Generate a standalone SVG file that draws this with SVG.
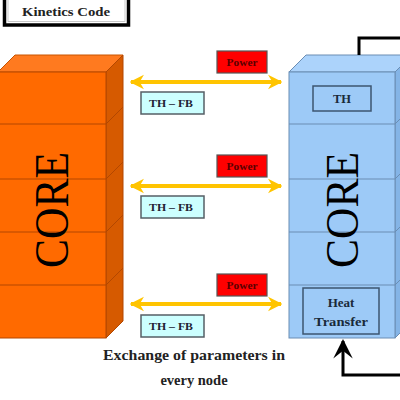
<svg xmlns="http://www.w3.org/2000/svg" width="400" height="400" viewBox="0 0 400 400">
<defs>
<style>
.serif{font-family:"Liberation Serif","Times New Roman",serif;}
.b{font-weight:bold;}
.odiv{stroke:#b34700;stroke-width:1;fill:none;}
.bdiv{stroke:#6a8db3;stroke-width:1;fill:none;}
.yarrow{stroke:#ffc400;stroke-width:4;fill:none;}
.power{fill:#ff0000;stroke:#555;stroke-width:1.2;}
.thfb{fill:#ccffff;stroke:#555f66;stroke-width:1.5;}
.blk{stroke:#000;stroke-width:3;fill:none;}
</style>
<marker id="yh" viewBox="0 0 10 10" refX="9" refY="5" markerWidth="3.6" markerHeight="4.2" orient="auto-start-reverse" markerUnits="strokeWidth">
<path d="M0,0 L10,5 L0,10 L3,5 Z" fill="#ffc400"/>
</marker>
<marker id="bh" viewBox="0 0 10 10" refX="9" refY="5" markerWidth="6.5" markerHeight="6.8" orient="auto" markerUnits="strokeWidth">
<path d="M0,0 L10,5 L0,10 L4,5 Z" fill="#000"/>
</marker>
</defs>
<rect width="400" height="400" fill="#fff"/>

<g id="kinetics">
<rect x="4.5" y="-4" width="124" height="29" fill="#fff" stroke="#000" stroke-width="3.5"/>
<rect x="8" y="-4" width="117" height="25.5" fill="none" stroke="#bbb" stroke-width="0.8"/>
<text x="66" y="16" class="serif b" font-size="13.5" text-anchor="middle" textLength="88" lengthAdjust="spacingAndGlyphs" fill="#222">Kinetics Code</text>
</g>

<g id="core-left">
<polygon points="-2,72 15,55 123,55 106,72" fill="#ff7a1f" stroke="#c85400" stroke-width="1"/>
<polygon points="106,72 123,55 123,321 106,338" fill="#d65a00" stroke="#b34700" stroke-width="1"/>
<rect x="-2" y="72" width="108" height="266" fill="#ff6a00" stroke="#b34700" stroke-width="1"/>
<path class="odiv" d="M0,124H106L123,107M0,179H106L123,162M0,232H106L123,215M0,285H106L123,268"/>
<text transform="translate(68,210) rotate(-90)" class="serif" font-size="48" text-anchor="middle" textLength="116" lengthAdjust="spacingAndGlyphs" fill="#000">CORE</text>
</g>

<g id="core-right">
<polygon points="289,72 306,55 414,55 395,72" fill="#acd3fb" stroke="#6a8db3" stroke-width="1"/>
<polygon points="395,72 412,55 412,321 395,338" fill="#84b4e6" stroke="#6a8db3" stroke-width="1"/>
<rect x="289" y="72" width="106" height="266" fill="#9dcaf7" stroke="#6a8db3" stroke-width="1"/>
<path class="bdiv" d="M289,124H395L412,107M289,179H395L412,162M289,232H395L412,215M289,285H395L412,268"/>
<text transform="translate(358,210) rotate(-90)" class="serif" font-size="46" text-anchor="middle" textLength="116" lengthAdjust="spacingAndGlyphs" fill="#000">CORE</text>
</g>

<g id="th">
<rect x="313" y="86" width="58" height="25" fill="#9dcaf7" stroke="#3d5570" stroke-width="1.5"/>
<text x="342" y="103" class="serif b" font-size="12.5" text-anchor="middle" fill="#1a2a3a">TH</text>
</g>

<g id="heat-transfer">
<rect x="303" y="288" width="76" height="46" fill="#9dcaf7" stroke="#3d5570" stroke-width="1.5"/>
<text x="341" y="307" class="serif b" font-size="13" text-anchor="middle" fill="#1a2a3a">Heat</text>
<text x="341" y="326" class="serif b" font-size="13" text-anchor="middle" textLength="54" lengthAdjust="spacingAndGlyphs" fill="#1a2a3a">Transfer</text>
</g>

<g id="power-1"><rect class="power" x="217" y="51" width="50" height="22"/><text x="242" y="66" class="serif b" font-size="10.5" text-anchor="middle" textLength="31" lengthAdjust="spacingAndGlyphs" fill="#5a0000">Power</text></g>
<g id="power-2"><rect class="power" x="217" y="155" width="50" height="22"/><text x="242" y="170" class="serif b" font-size="10.5" text-anchor="middle" textLength="31" lengthAdjust="spacingAndGlyphs" fill="#5a0000">Power</text></g>
<g id="power-3"><rect class="power" x="217" y="274" width="50" height="22"/><text x="242" y="289" class="serif b" font-size="10.5" text-anchor="middle" textLength="31" lengthAdjust="spacingAndGlyphs" fill="#5a0000">Power</text></g>

<g id="thfb-1"><rect class="thfb" x="141" y="92" width="63" height="22"/><text x="171" y="107" class="serif b" font-size="10.5" text-anchor="middle" textLength="44" lengthAdjust="spacingAndGlyphs" fill="#223">TH – FB</text></g>
<g id="thfb-2"><rect class="thfb" x="141" y="196" width="63" height="22"/><text x="171" y="211" class="serif b" font-size="10.5" text-anchor="middle" textLength="44" lengthAdjust="spacingAndGlyphs" fill="#223">TH – FB</text></g>
<g id="thfb-3"><rect class="thfb" x="141" y="315" width="63" height="22"/><text x="171" y="330" class="serif b" font-size="10.5" text-anchor="middle" textLength="44" lengthAdjust="spacingAndGlyphs" fill="#223">TH – FB</text></g>

<g id="connectors">
<line class="yarrow" x1="131" y1="82" x2="281" y2="82" marker-start="url(#yh)" marker-end="url(#yh)"/>
<line class="yarrow" x1="131" y1="186" x2="281" y2="186" marker-start="url(#yh)" marker-end="url(#yh)"/>
<line class="yarrow" x1="131" y1="304" x2="281" y2="304" marker-start="url(#yh)" marker-end="url(#yh)"/>
<polyline class="blk" points="359,55 359,38 402,38"/>
<polyline class="blk" points="402,375 343,375 343,341" marker-end="url(#bh)"/>
</g>

<g id="caption">
<text x="194" y="360" class="serif b" font-size="14.5" text-anchor="middle" textLength="182" lengthAdjust="spacingAndGlyphs" fill="#222">Exchange of parameters in</text>
<text x="194" y="385" class="serif b" font-size="14.5" text-anchor="middle" fill="#222">every node</text>
</g>
</svg>
